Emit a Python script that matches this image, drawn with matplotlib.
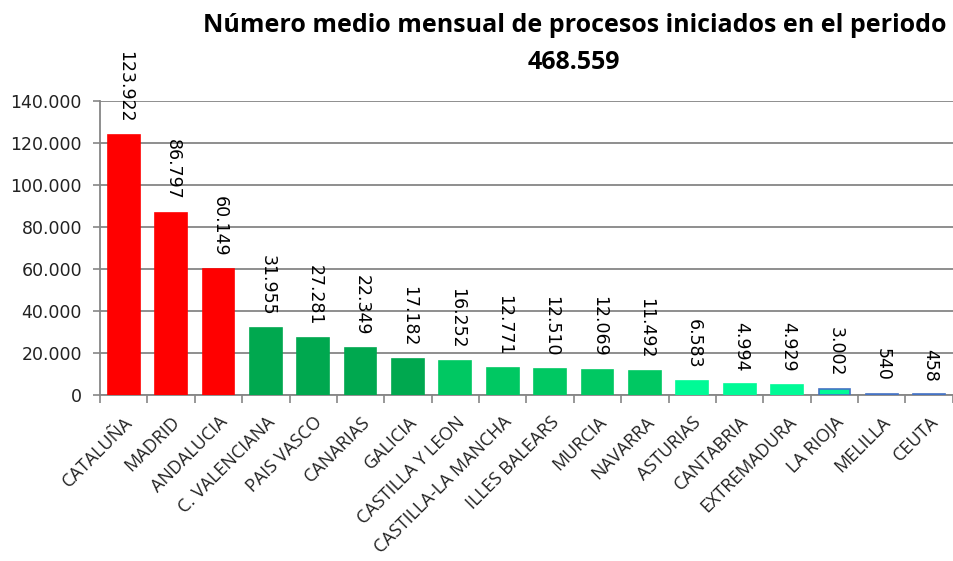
import numpy as np
import matplotlib.pyplot as plt
from matplotlib.ticker import FuncFormatter

# data
regiones = ['CATALUÑA', 'MADRID', 'ANDALUCIA', 'C. VALENCIANA', 'PAIS VASCO',
            'CANARIAS', 'GALICIA', 'CASTILLA Y LEON', 'CASTILLA-LA MANCHA',
            'ILLES BALEARS', 'MURCIA', 'NAVARRA', 'ASTURIAS', 'CANTABRIA',
            'EXTREMADURA', 'LA RIOJA', 'MELILLA', 'CEUTA']
procesos = [123922, 86797, 60149, 31955, 27281, 22349, 17182, 16252, 12771,
            12510, 12069, 11492, 6583, 4994, 4929, 3002, 540, 458]
total = 468559
yticks = [0, 20000, 40000, 60000, 80000, 100000, 120000, 140000]

def miles(v):
    return f'{int(round(v)):,}'.replace(',', '.')

rojo = '#FF0000'
verde1 = '#00A84F'
verde2 = '#00C862'
verde3 = '#00FA96'
azul = '#4472C4'
fill = [rojo]*3 + [verde1]*4 + [verde2]*5 + [verde3]*4 + ['#9DC3E6']*2
edge = fill[:15] + [azul]*3

plt.rcParams['font.family'] = 'DejaVu Sans'
fig = plt.figure(figsize=(9.54, 5.61), dpi=100)
ax = fig.add_axes([0.1048, 0.296, 0.894, 0.524])

x = np.arange(len(regiones))
ax.bar(x, procesos, width=0.67, color=fill, edgecolor=edge, linewidth=1.2, zorder=3)

for xi, v in zip(x, procesos):
    ax.annotate(miles(v), (xi, v), xytext=(1, 9), textcoords='offset points',
                rotation=-90, ha='center', va='bottom', fontsize=12.5, color='black')

ax.set_xlim(-0.5, len(regiones) - 0.5)
ax.set_ylim(0, 140000)
ax.set_yticks(yticks)
ax.yaxis.set_major_formatter(FuncFormatter(lambda v, p: miles(v)))
ax.tick_params(axis='y', labelsize=12.5, length=5, pad=8, color='#868686', width=1.2,
               labelcolor='#222222')

# category boundary ticks on x axis
ax.set_xticks(np.arange(-0.5, len(regiones)), minor=False)
ax.set_xticklabels([])
ax.tick_params(axis='x', length=6, color='#868686', width=1.2)
ax.set_xticks(x, minor=True)
ax.set_xticklabels(regiones, minor=True, rotation=45, ha='right', rotation_mode='anchor',
                   fontsize=13, family='Open Sans', color='#222222')
ax.tick_params(axis='x', which='minor', length=0, pad=13)

ax.yaxis.grid(True, color='#868686', linewidth=1.3, zorder=0)
for s in ['top', 'right']:
    ax.spines[s].set_visible(False)
ax.spines['left'].set_color('#868686')
ax.spines['bottom'].set_color('#868686')
ax.spines['left'].set_linewidth(1.3)
ax.spines['bottom'].set_linewidth(1.3)

titulo = dict(ha='center', va='center', fontsize=18, fontweight='bold',
              family='Open Sans', fontstretch='normal')
fig.text(0.602, 0.955, 'Número medio mensual de procesos iniciados en el periodo', **titulo)
fig.text(0.602, 0.889, miles(total), **titulo)

fig.savefig('out.png', dpi=100)
